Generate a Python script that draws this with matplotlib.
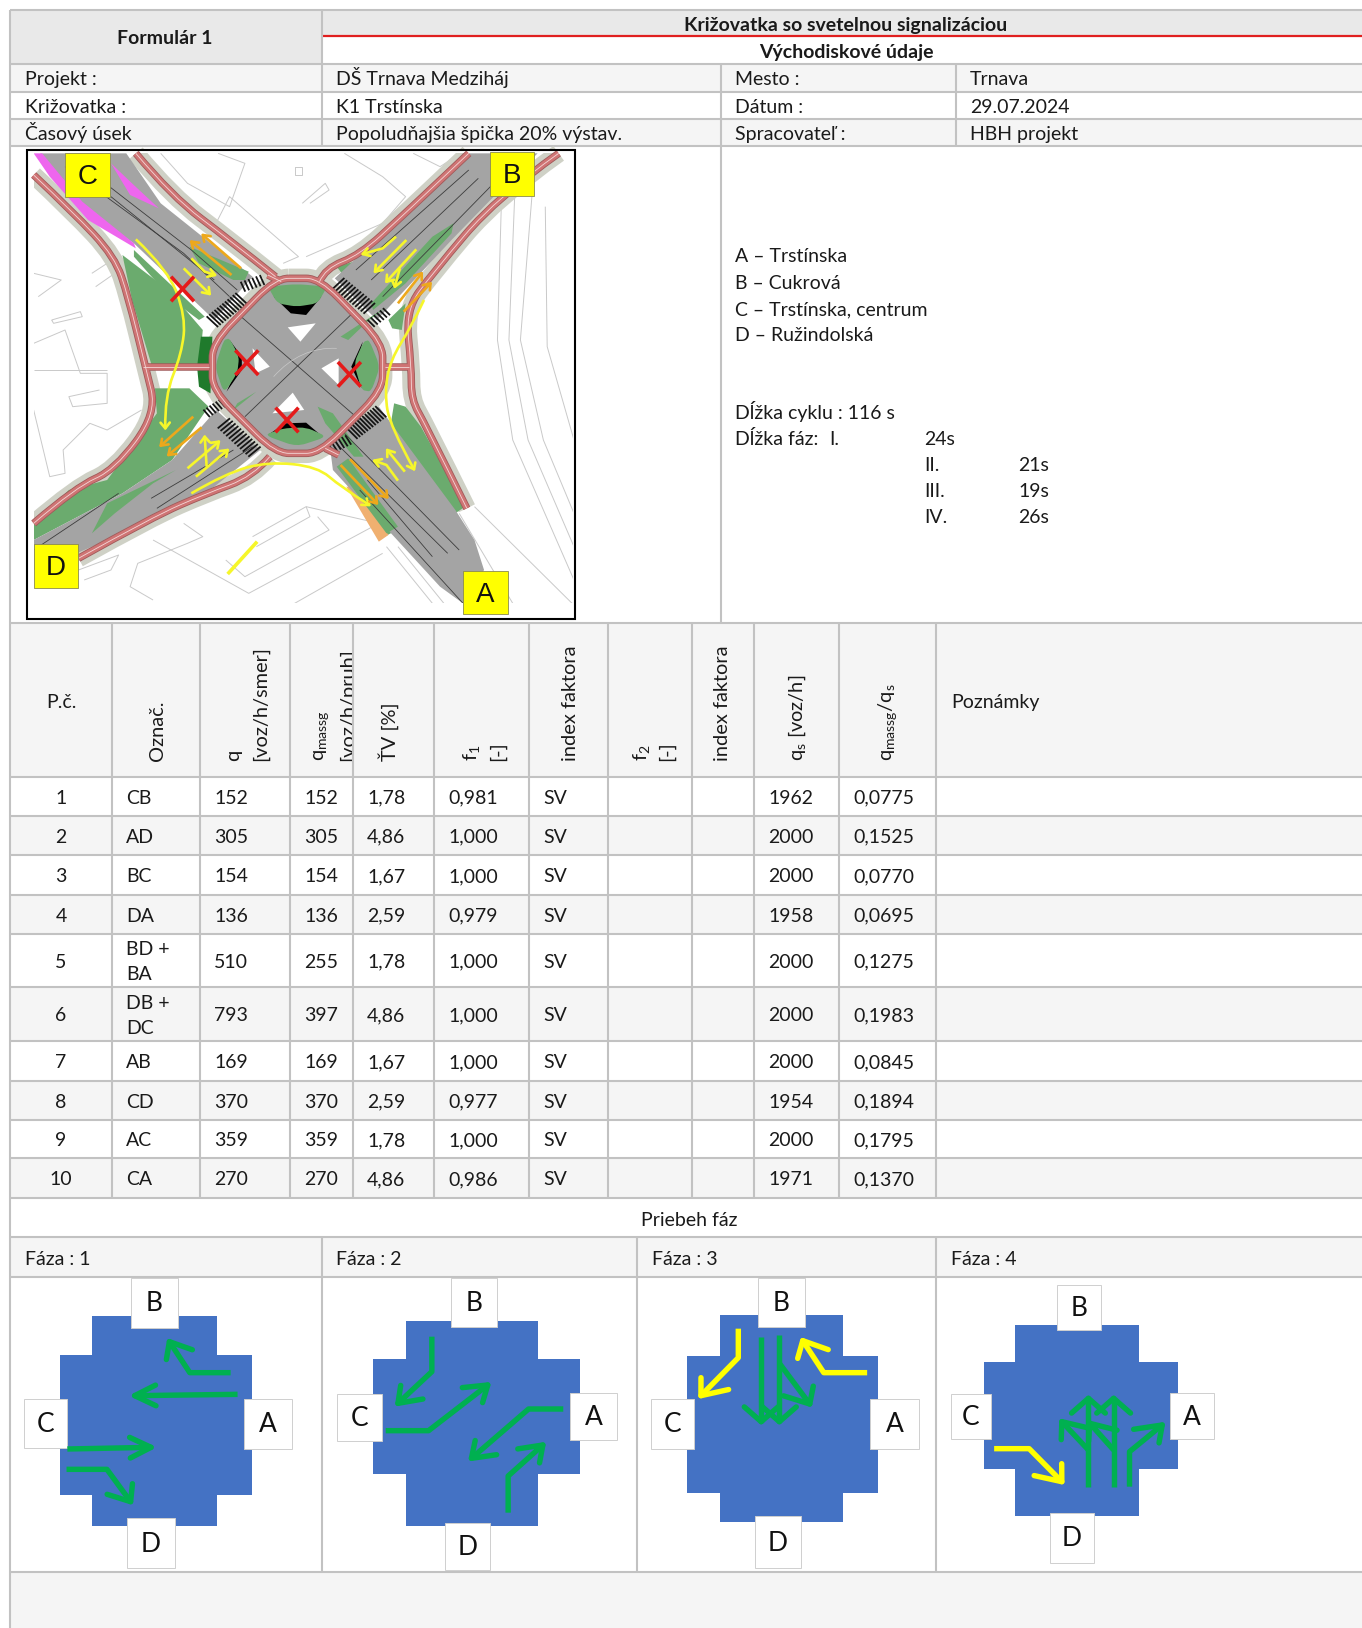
"""
Krizovatka so svetelnou signalizaciou - Formular 1
Redraws the input-data form: table, site plan and the four signal phases.
"""
import matplotlib
matplotlib.use('Agg')
import numpy as np
import matplotlib.pyplot as plt
from matplotlib.patches import Polygon, Rectangle, PathPatch
from matplotlib.path import Path
from matplotlib.collections import LineCollection

W, H = 1362, 1628

plt.rcParams['font.family'] = ['Lato', 'DejaVu Sans']
plt.rcParams['mathtext.fontset'] = 'custom'
plt.rcParams['mathtext.rm'] = 'Lato'
plt.rcParams['mathtext.it'] = 'Lato'
plt.rcParams['mathtext.bf'] = 'Lato:bold'
plt.rcParams['mathtext.default'] = 'regular'

# table data
row_no = ['1', '2', '3', '4', '5', '6', '7', '8', '9', '10']
oznac = ['CB', 'AD', 'BC', 'DA', 'BD +\nBA', 'DB +\nDC', 'AB', 'CD', 'AC', 'CA']
q = ['152', '305', '154', '136', '510', '793', '169', '370', '359', '270']
q_massg = ['152', '305', '154', '136', '255', '397', '169', '370', '359', '270']
tv = ['1,78', '4,86', '1,67', '2,59', '1,78', '4,86', '1,67', '2,59', '1,78', '4,86']
f1 = ['0,981', '1,000', '1,000', '0,979', '1,000', '1,000', '1,000', '0,977', '1,000', '0,986']
index_f1 = ['SV'] * 10
q_s = ['1962', '2000', '2000', '1958', '2000', '2000', '2000', '1954', '2000', '1971']
ratio = ['0,0775', '0,1525', '0,0770', '0,0695', '0,1275', '0,1983', '0,0845', '0,1894', '0,1795', '0,1370']

info_rows = [
    ('Projekt :', 'DŠ Trnava Medziháj', 'Mesto :', 'Trnava'),
    ('Križovatka :', 'K1 Trstínska', 'Dátum :', '29.07.2024'),
    ('Časový úsek', 'Popoludňajšia špička 20% výstav.', 'Spracovateľ :', 'HBH projekt'),
]
legend_lines = ['A – Trstínska', 'B – Cukrová', 'C – Trstínska, centrum', 'D – Ružindolská']
phase_names = ['Fáza : 1', 'Fáza : 2', 'Fáza : 3', 'Fáza : 4']

# grid geometry, in picture pixels
col_x = [10, 112, 200, 290, 353, 434, 529, 608, 692, 754, 839, 936, 1362]
row_y = [777, 816, 855, 895, 934, 987, 1041, 1081, 1120, 1158, 1198]
info_y = [64, 92, 119, 146]

GRID = '#c2c2c2'
LIGHT = '#f5f5f5'
HEAD = '#e9e9e9'
FS = 14.0

fig = plt.figure(figsize=(W / 100, H / 100), dpi=100)
ax = fig.add_axes([0, 0, 1, 1])
ax.set_xlim(0, W)
ax.set_ylim(H, 0)
ax.axis('off')


def cell(x0, y0, x1, y1, color):
    ax.add_patch(Rectangle((x0, y0), x1 - x0, y1 - y0, fc=color, ec='none', zorder=0))


def hline(y, x0=10, x1=W, color=GRID, lw=1.5):
    ax.plot([x0, x1], [y, y], color=color, lw=lw, zorder=1, solid_capstyle='butt')


def vline(x, y0, y1):
    ax.plot([x, x], [y0, y1], color=GRID, lw=1.5, zorder=1, solid_capstyle='butt')


def label(x, y, s, ha='left', **kw):
    # y is the middle of the capitals, so every cell sits on the same baseline
    return ax.text(x, y + 7.3, s, ha=ha, va='baseline', fontsize=FS, color='#1a1a1a', zorder=5, **kw)


# top block
cell(10, 10, W, 36, HEAD)
cell(10, 10, 322, 64, HEAD)
label(165, 37, 'Formulár 1', ha='center', fontweight='bold')
label(846, 24, 'Križovatka so svetelnou signalizáciou', ha='center', fontweight='bold')
label(846, 51, 'Východiskové údaje', ha='center', fontweight='bold')
hline(10)
hline(36, x0=322, color='#e01f1f', lw=1.6)
hline(64)
vline(10, 10, 1628)
vline(322, 10, 146)

# project rows
for i, (a, b, c, d) in enumerate(info_rows):
    y0, y1 = info_y[i], info_y[i + 1]
    if i != 1:
        cell(10, y0, W, y1, LIGHT)
    ym = (y0 + y1) / 2
    label(25, ym, a)
    label(336, ym, b)
    label(735, ym, c)
    label(970, ym, d)
    hline(y1)
vline(721, 64, 623)
vline(956, 64, 146)

# legend and cycle text to the right of the plan
for y, s in zip([255, 282, 308, 334], legend_lines):
    label(735, y, s)
label(735, 412, 'Dĺžka cyklu : 116 s')
label(735, 438, 'Dĺžka fáz:')
label(829, 438, 'I.')
label(924, 438, '24s')
for y, n, t in zip([464, 490, 516], ['II.', 'III.', 'IV.'], ['21s', '19s', '26s']):
    label(924, y, n)
    label(1018, y, t)

# table header
cell(10, 623, W, 777, LIGHT)
hline(623)
hline(777)
label(61, 701, 'P.č.', ha='center')
label(951, 701, 'Poznámky')


def vhead(x, s, clip=None):
    t = ax.text(x, 761, s, rotation=90, ha='center', va='bottom', fontsize=14.4, color='#1a1a1a', zorder=5)
    if clip is not None:
        t.set_clip_path(Rectangle((clip[0], 624), clip[1] - clip[0], 153, transform=ax.transData))
        t.set_clip_on(True)


vhead(157, 'Označ.')
vhead(234, 'q')
vhead(260, '[voz/h/smer]')
vhead(322, r'$q_{massg}$')
vhead(347, '[voz/h/pruh]', clip=(290, 352))
vhead(389, 'ŤV [%]')
vhead(472, r'$f_{1}$')
vhead(497, '[-]')
vhead(570, 'index faktora')
vhead(641, r'$f_{2}$')
vhead(666, '[-]')
vhead(722, 'index faktora')
vhead(797, r'$q_{s}$ [voz/h]')
vhead(888, r'$q_{massg}/q_{s}$')

# table body
columns = [oznac, q, q_massg, tv, f1, index_f1, None, None, q_s, ratio]
for i in range(len(row_no)):
    y0, y1 = row_y[i], row_y[i + 1]
    if i % 2 == 1:
        cell(10, y0, W, y1, LIGHT)
    ym = (y0 + y1) / 2
    label(61, ym, row_no[i], ha='center')
    for j, values in enumerate(columns):
        if values is None:
            continue
        lines = values[i].split('\n')
        for k, line in enumerate(lines):
            label(col_x[j + 1] + 14, ym + (k - (len(lines) - 1) / 2) * 25, line)
    hline(y1)
for x in col_x[1:-1]:
    vline(x, 623, row_y[-1])

# phase part
cell(10, 1237, W, 1277, LIGHT)
cell(10, 1572, W, H, LIGHT)
label(689, 1219, 'Priebeh fáz', ha='center')
hline(1237)
hline(1277)
hline(1572)
for x, s in zip([25, 336, 652, 951], phase_names):
    label(x, 1258, s)
for x in [322, 637, 936]:
    vline(x, 1237, 1572)


def image_axes(x0, y0, w, h, zoom_w=1568):
    # sub axes that uses the coordinates of an enlarged crop of the picture
    a = fig.add_axes([x0 / W, 1 - (y0 + h) / H, w / W, h / H])
    a.set_xlim(0, zoom_w)
    a.set_ylim(h * 3, 0)
    a.axis('off')
    a.patch.set_alpha(0)
    return a


def curve(pts, closed=False):
    pts = np.asarray(pts, float)
    if closed:
        # straight edges with rounded corners
        nxt = np.roll(pts, -1, axis=0)
        a = pts + (nxt - pts) * 0.3
        b = pts + (nxt - pts) * 0.7
        verts = [a[0]]
        codes = [Path.MOVETO]
        for k in range(len(pts)):
            verts += [b[k], nxt[k], a[(k + 1) % len(pts)]]
            codes += [Path.LINETO, Path.CURVE3, Path.CURVE3]
        return Path(verts, codes)
    verts = [pts[0]]
    codes = [Path.MOVETO]
    for k in range(1, len(pts) - 1):
        end = pts[k + 1] if k == len(pts) - 2 else (pts[k] + pts[k + 1]) / 2
        verts += [pts[k], end]
        codes += [Path.CURVE3, Path.CURVE3]
    if len(pts) == 2:
        verts.append(pts[1])
        codes.append(Path.LINETO)
    return Path(verts, codes)


def stroke(a, pts, color, lw, z=2, smooth=True, closed=False, capstyle='butt'):
    path = curve(pts, closed) if smooth else Path(pts)
    a.add_patch(PathPatch(path, fc='none', ec=color, lw=lw, zorder=z, capstyle=capstyle, joinstyle='round'))


def fill(a, pts, color, z=2, smooth=False):
    if smooth:
        a.add_patch(PathPatch(curve(pts, closed=True), fc=color, ec='none', zorder=z))
    else:
        a.add_patch(Polygon(pts, closed=True, fc=color, ec='none', zorder=z))


def arrow(a, pts, color, lw=3.6, head=(45, 40), z=6, smooth=False):
    # polyline with an open V head, head sizes in crop units
    pts = np.asarray(pts, float)
    stroke(a, pts, color, lw, z=z, smooth=smooth)
    d = pts[-1] - pts[-2]
    ang = np.arctan2(d[1], d[0])
    for s in (-1, 1):
        b = ang + np.pi + s * np.radians(35)
        tip = pts[-1] + np.array([np.cos(b) * head[0] * 1.5, np.sin(b) * head[1] * 1.5])
        a.plot([pts[-1][0], tip[0]], [pts[-1][1], tip[1]], color=color, lw=lw, zorder=z, solid_capstyle='round')


# ---- site plan ----
plan = image_axes(0, 140, 600, 500)
ROAD = '#a4a4a4'
BUF = '#cfd1c6'
ISLAND = '#6bab6e'
CYCLE = '#cf7474'
OUTLINE = '#c9c9c9'

outlines = [
    [(420, 40), (490, 130), (600, 200), (640, 70), (570, 40)],
    [(560, 260), (600, 170), (780, 350), (740, 370)],
    [(900, 40), (1000, 110), (1060, 170), (1000, 250), (840, 330), (800, 350)],
    [(1080, 40), (1150, 80), (1190, 50)],
    [(790, 190), (850, 130), (860, 150), (810, 190)],
    [(770, 80), (790, 80), (790, 105), (770, 105), (770, 80)],
    [(88, 400), (160, 420), (100, 470)],
    [(88, 610), (170, 570), (210, 700), (280, 700), (280, 790), (190, 800), (180, 770), (260, 750)],
    [(135, 540), (210, 515), (215, 530), (140, 550), (135, 540)],
    [(88, 690), (280, 690)],
    [(88, 810), (130, 1010), (170, 1000), (165, 930), (235, 850), (280, 870), (370, 810)],
    [(240, 400), (280, 370), (300, 400), (250, 440)],
    [(480, 1150), (530, 1190), (490, 1210), (360, 1270), (340, 1340), (400, 1380)],
    [(400, 1200), (650, 1360), (990, 1150), (800, 1100)],
    [(590, 1260), (640, 1310), (860, 1170), (830, 1130)],
    [(660, 1190), (800, 1100), (810, 1130), (670, 1220)],
    [(1010, 1220), (1130, 1390)],
    [(1040, 1220), (1160, 1390)],
    [(770, 1390), (1000, 1240)],
    [(1310, 200), (1300, 600), (1340, 900), (1500, 1320)],
    [(1345, 170), (1330, 600), (1380, 900), (1500, 1220)],
    [(1390, 170), (1360, 600), (1420, 900), (1500, 1120)],
    [(1425, 200), (1430, 620), (1500, 900)],
    [(1200, 1120), (1340, 1390)],
    [(1240, 1100), (1495, 1390)],
    [(205, 1290), (310, 1245), (290, 1290), (220, 1320)],
]
for pts in outlines:
    stroke(plan, pts, OUTLINE, 0.7, z=1, smooth=False)

# buffer strips along the cycle paths
cycle_paths = [
    [(355, 40), (450, 170), (600, 300), (720, 410)],
    [(88, 105), (190, 215), (300, 350), (335, 470), (380, 680), (410, 820), (300, 990), (200, 1040), (88, 1150)],
    [(1225, 40), (1050, 230), (940, 345), (850, 385), (835, 425)],
    [(1460, 40), (1300, 170), (1130, 400), (1060, 510), (1075, 680), (1075, 780), (1110, 850), (1220, 1105)],
    [(205, 1255), (400, 1130), (540, 1060), (660, 1010), (705, 950)],
]
ring = [(720, 415), (835, 415), (1000, 610), (1000, 750), (835, 940), (720, 940), (555, 750), (555, 610)]
for pts in cycle_paths:
    stroke(plan, pts, BUF, 13, z=2)
stroke(plan, ring, BUF, 14, z=2, closed=True)

# green verges behind the roads
fill(plan, [(320, 345), (440, 450), (530, 570), (520, 690), (400, 690), (345, 480)], ISLAND, z=3)
fill(plan, [(405, 745), (495, 745), (545, 800), (450, 960), (320, 1060), (88, 1200), (88, 1150), (180, 1050),
            (280, 1020), (410, 820)], ISLAND, z=3)
fill(plan, [(1030, 790), (1060, 800), (1100, 860), (1215, 1100), (1190, 1120), (1100, 1010), (1020, 860)], ISLAND, z=3)
fill(plan, [(880, 380), (940, 360), (900, 410)], ISLAND, z=3)
fill(plan, [(1015, 540), (1060, 490), (1050, 570), (1025, 565)], ISLAND, z=3)
fill(plan, [(910, 1000), (1045, 1165), (1005, 1190), (880, 990)], ISLAND, z=3)
fill(plan, [(905, 1040), (990, 1205), (1015, 1185), (930, 1040)], '#f0b070', z=3)

# road arms and the crossing area
fill(plan, [(105, 40), (330, 40), (420, 190), (660, 410), (560, 540), (350, 310), (200, 190)], ROAD, z=4)
fill(plan, [(1210, 40), (1405, 40), (1290, 170), (1180, 300), (985, 540), (875, 415), (940, 345), (1100, 170)], ROAD, z=4)
fill(plan, [(990, 800), (1190, 1110), (1240, 1200), (1265, 1290), (1210, 1390), (1150, 1340), (870, 990), (860, 900)], ROAD, z=4)
fill(plan, [(565, 810), (680, 930), (560, 1040), (360, 1160), (200, 1240), (88, 1290), (88, 1200), (320, 1060), (450, 960)], ROAD, z=4)
fill(plan, ring, ROAD, z=4, smooth=True)

# magenta wedge on the C arm
fill(plan, [(88, 40), (110, 40), (215, 185), (350, 310), (355, 325), (230, 240), (130, 110)], '#ee66ee', z=5)
fill(plan, [(290, 70), (345, 130), (415, 205), (340, 165)], '#ee66ee', z=5)
fill(plan, [(1130, 290), (1185, 250), (1180, 280), (1060, 430), (975, 510), (970, 490)], ISLAND, z=5)
fill(plan, [(495, 320), (650, 395), (640, 420), (610, 420), (520, 370)], ISLAND, z=5)
fill(plan, [(350, 330), (535, 530), (520, 540), (450, 480), (350, 350)], ISLAND, z=5)
fill(plan, [(880, 980), (910, 955), (1040, 1160), (1010, 1180)], ISLAND, z=5)
fill(plan, [(830, 800), (870, 820), (950, 950), (925, 950), (850, 850)], ISLAND, z=5)
fill(plan, [(620, 790), (670, 755), (610, 810)], ISLAND, z=5)
fill(plan, [(890, 590), (1010, 500), (960, 545), (910, 600)], ISLAND, z=5)
fill(plan, [(240, 1180), (280, 1090), (460, 990), (550, 930), (400, 1030), (300, 1120)], ISLAND, z=5)
fill(plan, [(525, 590), (555, 590), (550, 760), (520, 740), (515, 680)], '#1f7a2c', z=5)

# lane lines
lanes = [
    [(170, 80), (480, 340), (600, 470)], [(230, 90), (500, 330), (620, 450)], [(290, 170), (560, 420)],
    [(1225, 90), (930, 390)], [(1250, 115), (970, 420)], [(1290, 130), (1000, 470)],
    [(1200, 1230), (900, 880)], [(1170, 1240), (870, 900)], [(1130, 1250), (960, 1020)], [(1210, 1390), (940, 1050)],
    [(410, 1105), (660, 920)], [(395, 1075), (610, 930)], [(88, 1230), (310, 1060)],
    [(620, 520), (940, 840)], [(930, 510), (640, 830)],
]
for pts in lanes:
    stroke(plan, pts, '#3c3c3c', 0.6, z=6, smooth=False)

# inner green segments and black shadow
inner_black = [
    [(715, 470), (760, 520), (800, 525), (840, 470), (790, 495)],
    [(600, 600), (632, 650), (632, 690), (592, 755), (618, 690)],
    [(948, 605), (918, 680), (945, 745), (932, 680)],
    [(700, 885), (745, 850), (800, 848), (838, 885), (770, 868)],
]
for pts in inner_black:
    fill(plan, pts, 'black', z=7)
inner_green = [
    [(700, 440), (775, 432), (855, 440), (830, 490), (775, 500), (725, 490)],
    [(562, 680), (585, 600), (600, 595), (625, 650), (620, 700), (585, 760)],
    [(993, 680), (965, 600), (950, 605), (925, 670), (945, 750), (970, 755)],
    [(690, 885), (740, 865), (800, 862), (855, 890), (775, 920)],
]
for pts in inner_green:
    fill(plan, pts, ISLAND, z=8, smooth=True)
for pts in [[(752, 562), (825, 550), (785, 605)], [(660, 625), (705, 680), (668, 700)],
            [(840, 685), (885, 655), (885, 735)], [(712, 820), (765, 758), (795, 810)]]:
    fill(plan, pts, 'white', z=8)
stroke(plan, [(715, 710), (785, 620), (880, 625)], OUTLINE, 0.5, z=8)

# ring and crossing path
spurs = [[(375, 680), (545, 680)], [(1005, 680), (1070, 680)], [(700, 405), (735, 425)], [(850, 925), (885, 945)]]
for pts in spurs + cycle_paths:
    stroke(plan, pts, '#a05a5a', 5.4, z=9)
stroke(plan, ring, '#a05a5a', 5.4, z=9, closed=True)
for pts in spurs + cycle_paths:
    stroke(plan, pts, CYCLE, 4.2, z=10)
stroke(plan, ring, CYCLE, 4.2, z=10, closed=True)
for pts in spurs + cycle_paths:
    stroke(plan, pts, '#f4d8d8', 0.6, z=11)
stroke(plan, ring, '#f4d8d8', 0.6, z=11, closed=True)


def zebra(a, p0, p1, half, n):
    p0, p1 = np.array(p0, float), np.array(p1, float)
    d = p1 - p0
    ortho = np.array([d[1], -d[0]]) / np.hypot(*d) * half
    segs = [[p0 + d * t + ortho, p0 + d * t - ortho] for t in np.linspace(0, 1, n)]
    a.add_collection(LineCollection(segs, colors='#151515', linewidths=1.3, zorder=8))


zebra(plan, (555, 545), (630, 475), 22, 12)
zebra(plan, (635, 440), (685, 420), 16, 6)
zebra(plan, (885, 430), (965, 505), 22, 12)
zebra(plan, (970, 550), (1010, 515), 14, 6)
zebra(plan, (920, 880), (995, 815), 22, 12)
zebra(plan, (865, 925), (910, 900), 16, 6)
zebra(plan, (585, 850), (665, 935), 22, 12)
zebra(plan, (540, 820), (580, 790), 14, 6)

# yellow and orange moves on the plan
Y = '#f6f62a'
O = '#eda81c'
thin = dict(lw=1.9, head=(14, 14), z=12)
for pts in [[(355, 298), (440, 390), (485, 530), (475, 640), (430, 770), (432, 865)],
            [(1108, 480), (1075, 560), (1020, 660), (1005, 760), (1020, 860), (1082, 988)],
            [(500, 1060), (590, 1000), (700, 965), (830, 980), (890, 1040), (965, 1095)]]:
    arrow(plan, pts, Y, smooth=True, **thin)
for pts in [[(630, 385), (530, 285)], [(605, 405), (500, 305)], [(505, 830), (420, 917)], [(527, 862), (440, 945)],
            [(890, 975), (985, 1090)], [(915, 958), (1012, 1072)], [(1040, 490), (1102, 400)], [(1055, 515), (1125, 430)]]:
    arrow(plan, pts, O, **thin)
for pts in [[(480, 385), (548, 462)], [(500, 355), (535, 395), (562, 405)], [(1035, 290), (1000, 325), (948, 342)],
            [(1062, 300), (980, 395)], [(1088, 328), (1010, 425)], [(1045, 385), (1032, 440)],
            [(490, 985), (572, 905)], [(512, 1010), (595, 930)], [(540, 980), (535, 890)],
            [(1058, 995), (1012, 930)], [(1040, 1022), (1010, 975), (978, 962)]]:
    arrow(plan, pts, Y, **thin)
stroke(plan, [(595, 1302), (672, 1205)], Y, 2.6, z=12, smooth=False)

for cx, cy in [(477, 447), (645, 668), (913, 703), (750, 840)]:
    for s in (-1, 1):
        plan.plot([cx - s * 30, cx + s * 30], [cy - 37, cy + 37], color='#e51a1a', lw=2.6, zorder=13, solid_capstyle='butt')

# arm label squares
for x0, y0, x1, y1, s in [(170, 40, 288, 170, 'C'), (1280, 35, 1396, 167, 'B'),
                          (88, 1212, 205, 1343, 'D'), (1210, 1292, 1328, 1423, 'A')]:
    plan.add_patch(Rectangle((x0, y0), x1 - x0, y1 - y0, fc='#ffff00', ec='#8a8a50', lw=0.6, zorder=14))
    plan.text((x0 + x1) / 2, (y0 + y1) / 2 + 6, s, ha='center', va='center', fontsize=20,
              family=['Liberation Sans'], color='#111111', zorder=15)

# white cut-offs around the drawing, then the black frame
plan.add_patch(Rectangle((70, 30), 1432, 1407, fc='none', ec='black', lw=1.5, zorder=16))
for r in [(73, 33, 15, 1400), (73, 1390, 1137, 44), (1328, 1390, 172, 44), (1497, 33, 3, 1400), (73, 33, 1424, 6)]:
    plan.add_patch(Rectangle((r[0], r[1]), r[2], r[3], fc='white', ec='none', zorder=6.5))


# ---- phase diagrams ----
BLUE = '#4472c4'
GREEN = '#00b050'
YELLOW = '#ffff00'


def stepped(a, x0, x1, x2, x3, y0, y1, y2, y3):
    pts = [(x1, y0), (x2, y0), (x2, y1), (x3, y1), (x3, y2), (x2, y2), (x2, y3), (x1, y3), (x1, y2), (x0, y2), (x0, y1), (x1, y1)]
    a.add_patch(Polygon(pts, closed=True, fc=BLUE, ec='none', zorder=2))


def arm_box(a, box, s, fsize=19):
    x0, y0, x1, y1 = box
    a.add_patch(Rectangle((x0, y0), x1 - x0, y1 - y0, fc='white', ec='#cfcfcf', lw=0.7, zorder=3))
    a.text((x0 + x1) / 2, (y0 + y1) / 2 + 3, s, ha='center', va='center', fontsize=fsize, color='#111111', zorder=4)


zoom4 = image_axes(0, 1230, 640, 398)
zoom5 = image_axes(630, 1230, 732, 398)

phases = [
    dict(a=zoom4, steps=(146, 225, 532, 617, 257, 376, 795, 887),
         boxes=dict(B=(320, 143, 437, 293), D=(312, 863, 428, 1015), C=(60, 506, 163, 654), A=(598, 506, 715, 657)),
         moves=[([(565, 428), (465, 428), (415, 335)], GREEN), ([(582, 493), (330, 497)], GREEN),
                ([(165, 657), (370, 652)], GREEN), ([(163, 718), (262, 718), (320, 815)], GREEN)]),
    dict(a=zoom4, steps=(913, 995, 1318, 1422, 272, 387, 732, 887),
         boxes=dict(B=(1104, 143, 1217, 290), D=(1090, 880, 1200, 1020), C=(825, 491, 935, 634), A=(1397, 488, 1512, 631)),
         moves=[([(1058, 320), (1058, 425), (975, 520)], GREEN), ([(945, 602), (1050, 602), (1195, 465)], GREEN),
                ([(1380, 537), (1295, 537), (1155, 685)], GREEN), ([(1245, 848), (1245, 738), (1330, 645)], GREEN)]),
    dict(a=zoom5, steps=(122, 192, 457, 531, 256, 377, 790, 877),
         boxes=dict(B=(275, 143, 374, 292), D=(267, 858, 367, 1015), C=(46, 507, 138, 657), A=(515, 507, 618, 657)),
         moves=[([(281, 320), (281, 575)], GREEN), ([(320, 315), (320, 575)], GREEN), ([(320, 400), (385, 522)], GREEN),
                ([(232, 296), (232, 383), (152, 497)], YELLOW), ([(508, 428), (415, 428), (370, 332)], YELLOW)]),
    dict(a=zoom5, steps=(758, 824, 1090, 1173, 285, 397, 716, 857),
         boxes=dict(B=(915, 165, 1008, 300), D=(899, 850, 994, 998), C=(687, 493, 773, 628), A=(1157, 490, 1250, 628)),
         moves=[([(982, 770), (982, 505)], GREEN), ([(1036, 770), (1036, 505)], GREEN), ([(982, 660), (925, 575)], GREEN),
                ([(1036, 660), (985, 580)], GREEN), ([(1070, 770), (1070, 665), (1140, 585)], GREEN),
                ([(780, 656), (855, 656), (925, 755)], YELLOW)]),
]
for ph in phases:
    stepped(ph['a'], *ph['steps'])
    for s, box in ph['boxes'].items():
        arm_box(ph['a'], box, s)
    for pts, color in ph['moves']:
        arrow(ph['a'], pts, color, lw=3.9, head=(42, 36), z=5)

fig.savefig('out.png', dpi=100, facecolor='white')
